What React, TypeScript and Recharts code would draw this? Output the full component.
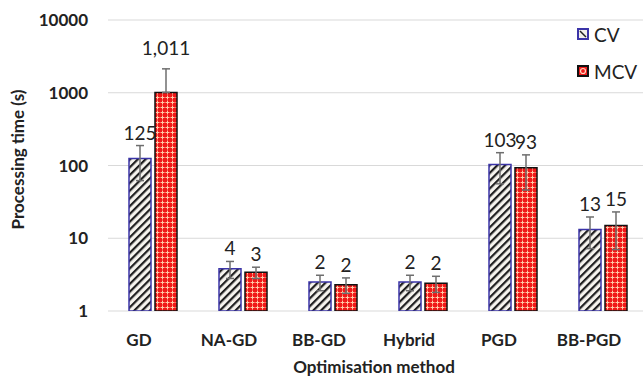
import React from 'react';
import {
  BarChart,
  Bar,
  XAxis,
  YAxis,
  CartesianGrid,
  ErrorBar,
  LabelList,
} from 'recharts';

const categories = ['GD', 'NA-GD', 'BB-GD', 'Hybrid', 'PGD', 'BB-PGD'];
const cvValues = [125, 3.8, 2.5, 2.5, 103, 13.2];
const mcvValues = [1011, 3.4, 2.3, 2.4, 93, 15];
const cvLabels = ['125', '4', '2', '2', '103', '13'];
const mcvLabels = ['1,011', '3', '2', '2', '93', '15'];
const cvErrLow = [63, 1.0, 0.6, 0.6, 47, 6];
const cvErrHigh = [63, 1.0, 0.6, 0.6, 47, 6.4];
const mcvErrLow = [0, 0.6, 0.55, 0.6, 47, 8];
const mcvErrHigh = [1120, 0.6, 0.55, 0.6, 47, 8];
const yTicks = [1, 10, 100, 1000, 10000];

const FONT = 'Lato, "Open Sans", sans-serif';

const data = categories.map((name, i) => ({
  name,
  cv: cvValues[i],
  mcv: mcvValues[i],
  cvErr: [cvErrLow[i], cvErrHigh[i]],
  mcvErr: [mcvErrLow[i], mcvErrHigh[i]],
}));

// label sits just above the top of the error bar
function makeLabel(labels: string[], hiErr: number[], extra: number[]) {
  return (props: any) => {
    const { x, y, width, height, index, value } = props;
    const v = Number(value);
    const ppd = height / Math.log10(v);
    const errTop = y - Math.log10((v + hiErr[index]) / v) * ppd;
    return (
      <text
        x={x + width / 2}
        y={errTop - 6 - extra[index]}
        textAnchor="middle"
        fontSize={19}
        fontFamily={FONT}
        fill="#222"
      >
        {labels[index]}
      </text>
    );
  };
}

function XTick({ x, y, payload }: any) {
  return (
    <text x={x - 14} y={y + 27} textAnchor="middle" fontSize={17} fontWeight="bold" fontFamily={FONT} fill="#222">
      {payload.value}
    </text>
  );
}

function YTick({ x, y, payload }: any) {
  return (
    <text x={x - 12} y={y + 6} textAnchor="end" fontSize={17} fontWeight="bold" fontFamily={FONT} fill="#222">
      {payload.value}
    </text>
  );
}

function LegendSwatch({ kind }: { kind: 'cv' | 'mcv' }) {
  return (
    <svg width={12} height={12} style={{ marginRight: 5 }}>
      {kind === 'cv' ? (
        <>
          <rect x={1} y={1} width={10} height={10} fill="#f2f0ea" stroke="#3b34a8" strokeWidth={2} />
          <line x1={3} y1={3} x2={9} y2={9} stroke="#222" strokeWidth={1.5} />
        </>
      ) : (
        <>
          <rect x={1} y={1} width={10} height={10} fill="#ee1c1c" stroke="#111" strokeWidth={2} />
          <circle cx={6} cy={6} r={2.5} fill="none" stroke="#ffd8c0" strokeWidth={1.2} />
        </>
      )}
    </svg>
  );
}

function LegendBox() {
  const row = { display: 'flex', alignItems: 'center', fontFamily: FONT, fontSize: 19, color: '#222', height: 24 };
  return (
    <div style={{ position: 'absolute', left: 577, top: 22 }}>
      <div style={{ ...row, marginBottom: 13 }}>
        <LegendSwatch kind="cv" />
        CV
      </div>
      <div style={row}>
        <LegendSwatch kind="mcv" />
        MCV
      </div>
    </div>
  );
}

const cvExtra = [0, 0, 0, 0, 0, 0];
const mcvExtra = [8, 0, 0, 0, 0, 0];

export default function App() {
  return (
    <div style={{ position: 'absolute', left: 0, top: 0, width: 643, height: 380, overflow: 'hidden', background: '#fff' }}>
      <BarChart
        width={648}
        height={380}
        data={data}
        margin={{ top: 20, right: 0, left: 0, bottom: 0 }}
        barSize={22}
        barGap={4}
      >
        <defs>
          <pattern id="cvPat" width={5.5} height={5.5} patternUnits="userSpaceOnUse" patternTransform="rotate(45)">
            <rect width={5.5} height={5.5} fill="#f6f4ee" />
            <rect x={0} y={0} width={2.2} height={5.5} fill="#1e1e1e" />
          </pattern>
          <pattern id="mcvPat" width={5} height={5} patternUnits="userSpaceOnUse">
            <rect width={5} height={5} fill="#f01818" />
            <rect x={2} y={0.5} width={1} height={4} fill="#ffc9a8" />
            <rect x={0.5} y={2} width={4} height={1} fill="#ffc9a8" />
          </pattern>
        </defs>
        <CartesianGrid vertical={false} stroke="#d9d9d9" />
        <XAxis
          dataKey="name"
          axisLine={false}
          tickLine={false}
          tick={<XTick />}
          height={69}
          label={{ value: 'Optimisation method', position: 'insideBottom', offset: 7, fontSize: 17, fontWeight: 'bold', fontFamily: FONT, fill: '#222', dx: -4 }}
        />
        <YAxis
          scale="log"
          domain={[1, 10000]}
          ticks={yTicks}
          allowDataOverflow
          axisLine={false}
          tickLine={false}
          width={108}
          tick={<YTick />}
          label={{ value: 'Processing time (s)', angle: -90, position: 'insideLeft', offset: 18, dy: -6, fontSize: 17, fontWeight: 'bold', fontFamily: FONT, fill: '#222', style: { textAnchor: 'middle' } }}
        />
        <Bar dataKey="cv" name="CV" fill="url(#cvPat)" stroke="#3b34a8" strokeWidth={1.5} isAnimationActive={false}>
          <ErrorBar dataKey="cvErr" width={4} stroke="#6e6e6e" strokeWidth={1.5} direction="y" />
          <LabelList dataKey="cv" content={makeLabel(cvLabels, cvErrHigh, cvExtra)} />
        </Bar>
        <Bar dataKey="mcv" name="MCV" fill="url(#mcvPat)" stroke="#111" strokeWidth={1.5} isAnimationActive={false}>
          <ErrorBar dataKey="mcvErr" width={4} stroke="#6e6e6e" strokeWidth={1.5} direction="y" />
          <LabelList dataKey="mcv" content={makeLabel(mcvLabels, mcvErrHigh, mcvExtra)} />
        </Bar>
      </BarChart>
      <LegendBox />
    </div>
  );
}
